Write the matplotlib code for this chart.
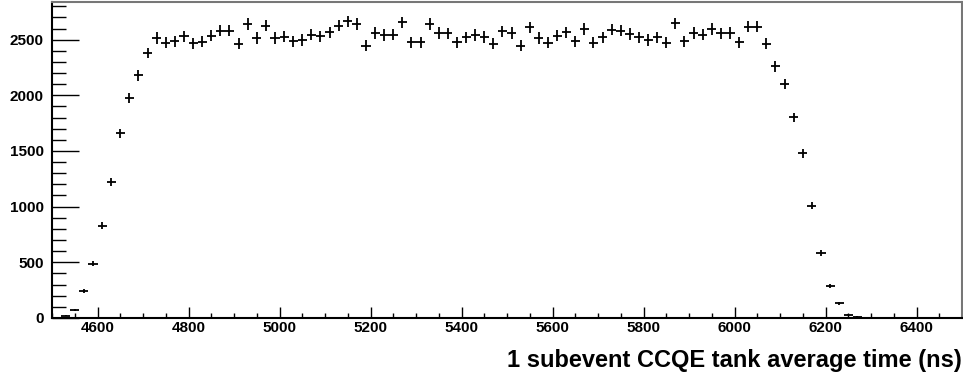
import numpy as np
import matplotlib
matplotlib.use('Agg')
import matplotlib.pyplot as plt
from matplotlib.ticker import MultipleLocator

# Histogram bin centres (ns), 20 ns wide bins
bin_centers = np.arange(4530, 6290, 20)

# Counts per bin
counts = [20, 75, 243, 485, 829, 1218, 1659, 1979, 2180, 2381,
          2516, 2471, 2485, 2530, 2467, 2480, 2536, 2581, 2581, 2462,
          2641, 2516, 2626, 2516, 2527, 2485, 2497, 2545, 2530, 2566,
          2626, 2665, 2641, 2446, 2560, 2542, 2545, 2656, 2476, 2476,
          2641, 2560, 2557, 2476, 2521, 2542, 2524, 2462, 2575, 2560,
          2446, 2611, 2516, 2471, 2536, 2566, 2485, 2596, 2471, 2521,
          2590, 2581, 2551, 2521, 2497, 2521, 2471, 2647, 2485, 2560,
          2545, 2596, 2558, 2560, 2476, 2617, 2617, 2462, 2261, 2102,
          1802, 1479, 1009, 584, 284, 131, 30, 12]

xticks = [4600, 4800, 5000, 5200, 5400, 5600, 5800, 6000, 6200, 6400]
xlabel = '1 subevent CCQE tank average time (ns)'

counts = np.array(counts, dtype=float)

plt.rcParams['font.family'] = ['Liberation Sans', 'DejaVu Sans']

fig = plt.figure(figsize=(9.63, 3.74), dpi=100)
ax = fig.add_axes([0.054, 0.150, 0.945, 0.845])

# ROOT style error bars: half bin width horizontally, sqrt(N) vertically
ax.errorbar(bin_centers, counts, xerr=10, yerr=np.sqrt(counts),
            fmt='none', ecolor='black', elinewidth=1.3, capsize=0)

ax.set_xlim(4500, 6500)
ax.set_ylim(0, 2840)

ax.set_xticks(xticks)
ax.xaxis.set_minor_locator(MultipleLocator(50))
ax.yaxis.set_major_locator(MultipleLocator(500))
ax.yaxis.set_minor_locator(MultipleLocator(100))

ax.tick_params(axis='y', which='major', direction='in', length=19.5, width=1, pad=6)
ax.tick_params(axis='y', which='minor', direction='in', length=10, width=1)
ax.tick_params(axis='x', which='major', direction='in', length=8, width=1, pad=2)
ax.tick_params(axis='x', which='minor', direction='in', length=3.6, width=1)

for lab in ax.get_xticklabels() + ax.get_yticklabels():
    lab.set_fontweight('bold')
    lab.set_fontsize(11)

ax.spines['left'].set_linewidth(1.5)
ax.spines['bottom'].set_linewidth(1.5)
ax.spines['top'].set_color('#777777')
ax.spines['right'].set_color('#777777')
ax.spines['top'].set_linewidth(1.5)
ax.spines['right'].set_linewidth(1.5)

fig.text(0.999, 0.019, xlabel, ha='right', va='baseline',
         fontsize=17, fontweight='bold')

fig.savefig('out.png', dpi=100)
